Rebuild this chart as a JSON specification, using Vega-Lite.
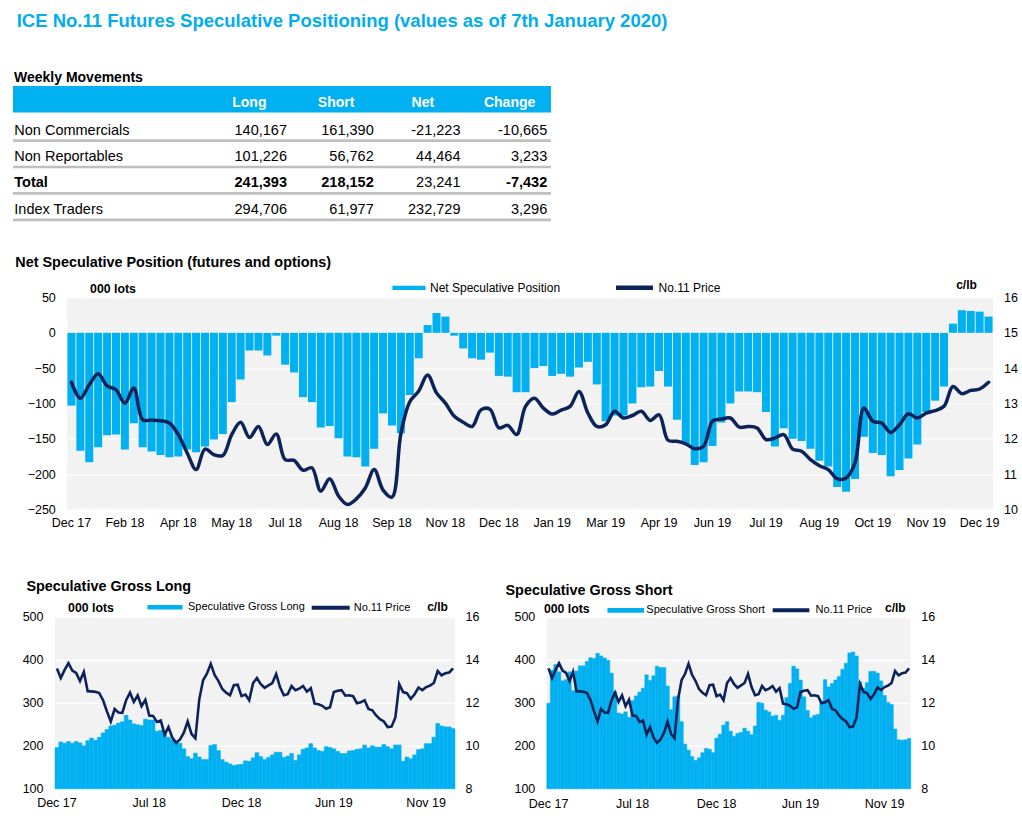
{
  "$schema": "https://vega.github.io/schema/vega-lite/v6.json",
  "background": "white",
  "padding": {"left": 11, "top": 12, "right": 0, "bottom": 0},
  "title": {"text": "ICE No.11 Futures Speculative Positioning (values as of 7th January 2020)", "anchor": "start", "font": "Liberation Sans", "fontSize": 18.5, "fontWeight": "bold", "color": "#00AEEF", "dx": 5, "dy": 1.5, "offset": 41.5},
  "datasets": {
    "w": [
      {"i":1,"net":-103,"long":196,"short":299,"price":13.60},
      {"i":2,"net":-167,"long":209,"short":376,"price":13.15},
      {"i":3,"net":-183,"long":206,"short":389,"price":13.53},
      {"i":4,"net":-162,"long":210,"short":372,"price":13.84},
      {"i":5,"net":-145,"long":206,"short":351,"price":13.50},
      {"i":6,"net":-144,"long":210,"short":354,"price":13.39},
      {"i":7,"net":-165,"long":207,"short":372,"price":13.01},
      {"i":8,"net":-128,"long":200,"short":328,"price":13.44},
      {"i":9,"net":-162,"long":212,"short":374,"price":12.54},
      {"i":10,"net":-168,"long":218,"short":386,"price":12.53},
      {"i":11,"net":-173,"long":213,"short":386,"price":12.51},
      {"i":12,"net":-176,"long":220,"short":396,"price":12.45},
      {"i":13,"net":-175,"long":230,"short":405,"price":12.12},
      {"i":14,"net":-165,"long":238,"short":403,"price":11.60},
      {"i":15,"net":-169,"long":246,"short":415,"price":11.13},
      {"i":16,"net":-161,"long":248,"short":409,"price":11.71},
      {"i":17,"net":-151,"long":253,"short":404,"price":11.55},
      {"i":18,"net":-143,"long":256,"short":399,"price":11.53},
      {"i":19,"net":-98,"long":271,"short":369,"price":12.12},
      {"i":20,"net":-66,"long":260,"short":326,"price":12.47},
      {"i":21,"net":-25,"long":251,"short":276,"price":12.04},
      {"i":22,"net":-25,"long":249,"short":274,"price":12.35},
      {"i":23,"net":-32,"long":247,"short":279,"price":11.84},
      {"i":24,"net":-4,"long":262,"short":266,"price":12.14},
      {"i":25,"net":-45,"long":260,"short":305,"price":11.41},
      {"i":26,"net":-56,"long":260,"short":316,"price":11.39},
      {"i":27,"net":-91,"long":234,"short":325,"price":11.11},
      {"i":28,"net":-98,"long":236,"short":334,"price":11.18},
      {"i":29,"net":-134,"long":231,"short":365,"price":10.52},
      {"i":30,"net":-132,"long":220,"short":352,"price":10.87},
      {"i":31,"net":-149,"long":214,"short":363,"price":10.38},
      {"i":32,"net":-175,"long":210,"short":385,"price":10.14},
      {"i":33,"net":-176,"long":206,"short":382,"price":10.30},
      {"i":34,"net":-189,"long":193,"short":382,"price":10.61},
      {"i":35,"net":-164,"long":175,"short":339,"price":11.13},
      {"i":36,"net":-114,"long":170,"short":284,"price":10.55},
      {"i":37,"net":-131,"long":183,"short":314,"price":10.35},
      {"i":38,"net":-142,"long":174,"short":316,"price":12.15},
      {"i":39,"net":-88,"long":168,"short":256,"price":13.05},
      {"i":40,"net":-36,"long":168,"short":204,"price":13.35},
      {"i":41,"net":11,"long":201,"short":190,"price":13.81},
      {"i":42,"net":28,"long":203,"short":175,"price":13.30},
      {"i":43,"net":23,"long":189,"short":166,"price":13.01},
      {"i":44,"net":-4,"long":168,"short":172,"price":12.64},
      {"i":45,"net":-22,"long":162,"short":184,"price":12.47},
      {"i":46,"net":-36,"long":158,"short":194,"price":12.35},
      {"i":47,"net":-38,"long":154,"short":192,"price":12.82},
      {"i":48,"net":-28,"long":156,"short":184,"price":12.84},
      {"i":49,"net":-61,"long":157,"short":218,"price":12.31},
      {"i":50,"net":-62,"long":165,"short":227,"price":12.38},
      {"i":51,"net":-84,"long":164,"short":248,"price":12.12},
      {"i":52,"net":-84,"long":172,"short":256,"price":12.92},
      {"i":53,"net":-50,"long":184,"short":234,"price":13.15},
      {"i":54,"net":-47,"long":175,"short":222,"price":12.87},
      {"i":55,"net":-61,"long":168,"short":229,"price":12.70},
      {"i":56,"net":-58,"long":173,"short":231,"price":12.81},
      {"i":57,"net":-62,"long":179,"short":241,"price":12.92},
      {"i":58,"net":-49,"long":185,"short":234,"price":13.34},
      {"i":59,"net":-41,"long":185,"short":226,"price":12.73},
      {"i":60,"net":-73,"long":173,"short":246,"price":12.35},
      {"i":61,"net":-125,"long":176,"short":301,"price":12.40},
      {"i":62,"net":-117,"long":182,"short":299,"price":12.78},
      {"i":63,"net":-117,"long":166,"short":283,"price":12.59},
      {"i":64,"net":-100,"long":179,"short":279,"price":12.66},
      {"i":65,"net":-77,"long":192,"short":269,"price":12.78},
      {"i":66,"net":-76,"long":195,"short":271,"price":12.52},
      {"i":67,"net":-54,"long":205,"short":259,"price":12.68},
      {"i":68,"net":-76,"long":195,"short":271,"price":11.96},
      {"i":69,"net":-123,"long":189,"short":312,"price":11.93},
      {"i":70,"net":-158,"long":187,"short":345,"price":11.86},
      {"i":71,"net":-187,"long":198,"short":385,"price":11.72},
      {"i":72,"net":-183,"long":196,"short":379,"price":11.79},
      {"i":73,"net":-160,"long":193,"short":353,"price":12.50},
      {"i":74,"net":-127,"long":187,"short":314,"price":12.56},
      {"i":75,"net":-100,"long":182,"short":282,"price":12.59},
      {"i":76,"net":-83,"long":182,"short":265,"price":12.33},
      {"i":77,"net":-83,"long":188,"short":271,"price":12.35},
      {"i":78,"net":-84,"long":189,"short":273,"price":12.31},
      {"i":79,"net":-112,"long":192,"short":304,"price":11.98},
      {"i":80,"net":-161,"long":193,"short":354,"price":12.02},
      {"i":81,"net":-135,"long":202,"short":337,"price":12.12},
      {"i":82,"net":-150,"long":195,"short":345,"price":11.71},
      {"i":83,"net":-153,"long":200,"short":353,"price":11.65},
      {"i":84,"net":-164,"long":197,"short":361,"price":11.41},
      {"i":85,"net":-181,"long":197,"short":378,"price":11.24},
      {"i":86,"net":-189,"long":203,"short":392,"price":11.13},
      {"i":87,"net":-218,"long":198,"short":416,"price":10.87},
      {"i":88,"net":-225,"long":193,"short":418,"price":10.89},
      {"i":89,"net":-207,"long":202,"short":409,"price":11.32},
      {"i":90,"net":-147,"long":202,"short":349,"price":12.87},
      {"i":91,"net":-170,"long":164,"short":334,"price":12.50},
      {"i":92,"net":-173,"long":174,"short":347,"price":12.45},
      {"i":93,"net":-203,"long":170,"short":373,"price":12.18},
      {"i":94,"net":-194,"long":179,"short":373,"price":12.40},
      {"i":95,"net":-178,"long":191,"short":369,"price":12.71},
      {"i":96,"net":-158,"long":193,"short":351,"price":12.59},
      {"i":97,"net":-112,"long":205,"short":317,"price":12.73},
      {"i":98,"net":-96,"long":205,"short":301,"price":12.80},
      {"i":99,"net":-76,"long":220,"short":296,"price":12.92},
      {"i":100,"net":13,"long":252,"short":239,"price":13.48},
      {"i":101,"net":32,"long":246,"short":214,"price":13.28},
      {"i":102,"net":31,"long":244,"short":213,"price":13.37},
      {"i":103,"net":30,"long":244,"short":214,"price":13.41},
      {"i":104,"net":23,"long":240,"short":217,"price":13.60}
    ],
    "table": [
      {"row":"hdr","col":"Long","v":"Long"},
      {"row":"hdr","col":"Short","v":"Short"},
      {"row":"hdr","col":"Net","v":"Net"},
      {"row":"hdr","col":"Change","v":"Change"},
      {"row":"Non Commercials","col":"Long","v":"140,167"},
      {"row":"Non Commercials","col":"Short","v":"161,390"},
      {"row":"Non Commercials","col":"Net","v":"-21,223"},
      {"row":"Non Commercials","col":"Change","v":"-10,665"},
      {"row":"Non Reportables","col":"Long","v":"101,226"},
      {"row":"Non Reportables","col":"Short","v":"56,762"},
      {"row":"Non Reportables","col":"Net","v":"44,464"},
      {"row":"Non Reportables","col":"Change","v":"3,233"},
      {"row":"Total","col":"Long","v":"241,393"},
      {"row":"Total","col":"Short","v":"218,152"},
      {"row":"Total","col":"Net","v":"23,241"},
      {"row":"Total","col":"Change","v":"-7,432"},
      {"row":"Index Traders","col":"Long","v":"294,706"},
      {"row":"Index Traders","col":"Short","v":"61,977"},
      {"row":"Index Traders","col":"Net","v":"232,729"},
      {"row":"Index Traders","col":"Change","v":"3,296"}
    ]
  },
  "spacing": 32.5,
  "resolve": {"scale": {"fill": "independent", "stroke": "independent"}, "legend": {"fill": "independent", "stroke": "independent"}},
  "vconcat": [
    {
      "width": 538,
      "height": 132,
      "data": {"name": "table"},
      "title": {"text": "Weekly Movements", "anchor": "start", "frame": "group", "dx": 1, "fontSize": 14, "fontWeight": "bold", "offset": 1.5},
      "encoding": {
        "y": {"field": "row", "type": "nominal", "sort": null,
              "scale": {"domain": ["hdr", "Non Commercials", "Non Reportables", "Total", "Index Traders"], "paddingInner": 0, "paddingOuter": 0},
              "axis": {"title": null, "domain": false, "ticks": false, "labelAlign": "left", "labelPadding": -0.8, "labelFontSize": 14.5, "labelOffset": 5,
                       "labelExpr": "datum.value == 'hdr' ? '' : datum.value",
                       "labelFontWeight": {"condition": {"test": "datum.value == 'Total'", "value": "bold"}, "value": "normal"}}}
      },
      "layer": [
        {
          "transform": [{"filter": "datum.row == 'hdr' && datum.col == 'Long'"}],
          "mark": {"type": "bar", "color": "#00B0F0"},
          "encoding": {"x": {"value": 0}, "x2": {"value": "width"}}
        },
        {
          "transform": [{"filter": "datum.row != 'hdr' && datum.col == 'Long'"}],
          "mark": {"type": "rule", "color": "#BFBFBF", "strokeWidth": 2.7, "yOffset": 15},
          "encoding": {"y": {"field": "row", "type": "nominal"}, "x": {"value": 0}, "x2": {"value": "width"}}
        },
        {
          "transform": [{"filter": "datum.row == 'hdr'"}],
          "mark": {"type": "text", "color": "white", "fontWeight": "bold", "fontSize": 14, "dy": 4.2},
          "encoding": {
            "x": {"field": "col", "type": "nominal", "scale": {"domain": ["Long", "Short", "Net", "Change"], "range": [193, 540], "paddingInner": 0, "paddingOuter": 0}, "axis": null},
            "text": {"field": "v"}
          }
        },
        {
          "transform": [{"filter": "datum.row != 'hdr' && !(datum.row == 'Total' && datum.col != 'Net')"}],
          "mark": {"type": "text", "color": "black", "fontSize": 14.5, "align": "right", "dx": 37.6, "dy": 5},
          "encoding": {
            "x": {"field": "col", "type": "nominal"},
            "text": {"field": "v"}
          }
        },
        {
          "transform": [{"filter": "datum.row == 'Total' && datum.col != 'Net'"}],
          "mark": {"type": "text", "color": "black", "fontSize": 14.5, "fontWeight": "bold", "align": "right", "dx": 37.6, "dy": 5},
          "encoding": {
            "x": {"field": "col", "type": "nominal"},
            "text": {"field": "v"}
          }
        }
      ]
    },
    {
      "spacing": 49.3,
      "resolve": {"scale": {"fill": "independent", "stroke": "independent"}, "legend": {"fill": "independent", "stroke": "independent"}},
      "vconcat": [
        {
          "spacing": 0,
          "resolve": {"scale": {"fill": "independent", "stroke": "independent"}, "legend": {"fill": "independent", "stroke": "independent"}},
          "hconcat": [
            {"width": 2, "height": 1, "data": {"values": []}, "mark": "point", "view": {"fill": "transparent", "stroke": null}},
            {
              "width": 926,
              "height": 212,
              "data": {"name": "w"},
              "title": {"text": "Net Speculative Position (futures and options)", "anchor": "start", "frame": "group", "dx": -51.7, "fontSize": 14.4, "fontWeight": "bold", "offset": -4},
              "view": {"fill": "#F2F2F2", "stroke": null},
              "encoding": {
                "x": {"field": "i", "type": "ordinal", "scale": {"paddingInner": 0.1, "paddingOuter": 0.05},
                      "axis": {"title": null, "domain": false, "ticks": false, "labelAngle": 0, "labelFontSize": 12.5, "labelPadding": 7,
                               "values": [1, 7, 13, 19, 25, 31, 37, 43, 49, 55, 61, 67, 73, 79, 85, 91, 97, 103],
                               "labelExpr": "['Dec 17','Feb 18','Apr 18','May 18','Jul 18','Aug 18','Sep 18','Nov 18','Dec 18','Jan 19','Mar 19','Apr 19','Jun 19','Jul 19','Aug 19','Oct 19','Nov 19','Dec 19'][(datum.value - 1) / 6]"}}
              },
              "layer": [
                {
                  "mark": {"type": "bar"},
                  "encoding": {
                    "y": {"field": "net", "type": "quantitative", "scale": {"domain": [-250, 50], "nice": false},
                          "axis": {"values": [-250, -200, -150, -100, -50, 0, 50], "grid": true, "gridColor": "white", "gridWidth": 1.2, "domain": false, "ticks": false,
                                   "labelFontSize": 12.5, "labelPadding": 11.7,
                                   "title": "000 lots", "titleAngle": 0, "titleX": 45.5, "titleY": -9.4, "titleAlign": "center", "titleBaseline": "middle", "titleFontSize": 12.3, "titleFontWeight": "bold"}},
                    "fill": {"datum": "Net Speculative Position", "type": "nominal", "scale": {"range": ["#00B0F0"]},
                             "legend": {"orient": "none", "legendX": 325, "legendY": -26.7, "title": null, "symbolType": "M-1,-0.13H1V0.13H-1Z", "symbolSize": 1100, "symbolStrokeWidth": 0, "labelFontSize": 12, "labelOffset": 4}}
                  }
                },
                {
                  "mark": {"type": "line", "interpolate": "catmull-rom", "strokeWidth": 3.5, "strokeCap": "round"},
                  "encoding": {
                    "y": {"field": "price", "type": "quantitative", "scale": {"domain": [10, 16], "nice": false, "zero": false},
                          "axis": {"orient": "right", "values": [10, 11, 12, 13, 14, 15, 16], "grid": false, "domain": false, "ticks": false,
                                   "labelFontSize": 12.5, "labelPadding": 10.6,
                                   "title": "c/lb", "titleAngle": 0, "titleX": -27, "titleY": -12.7, "titleAlign": "center", "titleBaseline": "middle", "titleFontSize": 12, "titleFontWeight": "bold"}},
                    "stroke": {"datum": "No.11 Price", "type": "nominal", "scale": {"range": ["#0C235A"]},
                               "legend": {"orient": "none", "legendX": 546.5, "legendY": -30.7, "title": null, "symbolType": "stroke", "symbolSize": 1369, "symbolStrokeWidth": 4.5, "labelFontSize": 12, "labelOffset": 3}}
                  }
                }
              ],
              "resolve": {"scale": {"y": "independent", "fill": "independent", "stroke": "independent"}, "legend": {"fill": "independent", "stroke": "independent"}}
            }
          ]
        },
        {
          "spacing": 0,
          "resolve": {"scale": {"fill": "independent", "stroke": "independent"}, "legend": {"fill": "independent", "stroke": "independent"}},
          "hconcat": [
            {"width": 8.4, "height": 1, "data": {"values": []}, "mark": "point", "view": {"fill": "transparent", "stroke": null}},
            {
              "spacing": 25.8,
              "resolve": {"scale": {"fill": "independent", "stroke": "independent"}, "legend": {"fill": "independent", "stroke": "independent"}},
              "hconcat": [
                {
                  "width": 400,
                  "height": 172,
                  "data": {"name": "w"},
                  "title": {"text": "Speculative Gross Long", "anchor": "start", "frame": "group", "dx": -28.6, "fontSize": 14.4, "fontWeight": "bold", "offset": -8},
                  "view": {"fill": "#F2F2F2", "stroke": null},
                  "encoding": {
                    "x": {"field": "i", "type": "ordinal", "scale": {"paddingInner": 0, "paddingOuter": 0},
                          "axis": {"title": null, "domain": false, "ticks": false, "labelAngle": 0, "labelFontSize": 12.5, "labelPadding": 7.5,
                                   "values": [1, 25, 49, 73, 97],
                                   "labelExpr": "['Dec 17','Jul 18','Dec 18','Jun 19','Nov 19'][(datum.value - 1) / 24]"}}
                  },
                  "layer": [
                    {
                      "mark": {"type": "bar", "stroke": "#00B0F0", "strokeWidth": 0.5},
                      "encoding": {
                        "y": {"field": "long", "type": "quantitative", "scale": {"domain": [100, 500], "nice": false, "zero": false},
                              "axis": {"values": [100, 200, 300, 400, 500], "grid": true, "gridColor": "white", "gridWidth": 1.2, "domain": false, "ticks": false,
                                       "labelFontSize": 12.5, "labelPadding": 12,
                                       "title": "000 lots", "titleAngle": 0, "titleX": 35.5, "titleY": -9, "titleAlign": "center", "titleBaseline": "middle", "titleFontSize": 12.3, "titleFontWeight": "bold"}},
                        "y2": {"datum": 100},
                        "fill": {"datum": "Speculative Gross Long", "type": "nominal", "scale": {"range": ["#00B0F0"]},
                                 "legend": {"orient": "none", "legendX": 92.5, "legendY": -27, "title": null, "symbolType": "M-1,-0.13H1V0.13H-1Z", "symbolSize": 1225, "symbolStrokeWidth": 0, "labelFontSize": 11, "labelOffset": 5.5}}
                      }
                    },
                    {
                      "mark": {"type": "line", "strokeWidth": 2.6},
                      "encoding": {
                        "y": {"field": "price", "type": "quantitative", "scale": {"domain": [8, 16], "nice": false, "zero": false},
                              "axis": {"orient": "right", "values": [8, 10, 12, 14, 16], "grid": false, "domain": false, "ticks": false,
                                       "labelFontSize": 12.5, "labelPadding": 10,
                                       "title": "c/lb", "titleAngle": 0, "titleX": -18, "titleY": -10, "titleAlign": "center", "titleBaseline": "middle", "titleFontSize": 12, "titleFontWeight": "bold"}},
                        "stroke": {"datum": "No.11 Price", "type": "nominal", "scale": {"range": ["#0C235A"]},
                                   "legend": {"orient": "none", "legendX": 254.7, "legendY": -30, "title": null, "symbolType": "stroke", "symbolSize": 1444, "symbolStrokeWidth": 4, "labelFontSize": 11, "labelOffset": 2}}
                      }
                    }
                  ],
                  "resolve": {"scale": {"y": "independent", "fill": "independent", "stroke": "independent"}, "legend": {"fill": "independent", "stroke": "independent"}}
                },
                {
                  "width": 364,
                  "height": 172,
                  "data": {"name": "w"},
                  "title": {"text": "Speculative Gross Short", "anchor": "start", "frame": "group", "dx": -41.3, "fontSize": 14.4, "fontWeight": "bold", "offset": -9},
                  "view": {"fill": "#F2F2F2", "stroke": null},
                  "encoding": {
                    "x": {"field": "i", "type": "ordinal", "scale": {"paddingInner": 0, "paddingOuter": 0},
                          "axis": {"title": null, "domain": false, "ticks": false, "labelAngle": 0, "labelFontSize": 12.5, "labelPadding": 8.5,
                                   "values": [1, 25, 49, 73, 97],
                                   "labelExpr": "['Dec 17','Jul 18','Dec 18','Jun 19','Nov 19'][(datum.value - 1) / 24]"}}
                  },
                  "layer": [
                    {
                      "mark": {"type": "bar", "stroke": "#00B0F0", "strokeWidth": 0.5},
                      "encoding": {
                        "y": {"field": "short", "type": "quantitative", "scale": {"domain": [100, 500], "nice": false, "zero": false},
                              "axis": {"values": [100, 200, 300, 400, 500], "grid": true, "gridColor": "white", "gridWidth": 1.2, "domain": false, "ticks": false,
                                       "labelFontSize": 12.5, "labelPadding": 12,
                                       "title": "000 lots", "titleAngle": 0, "titleX": 19.5, "titleY": -8, "titleAlign": "center", "titleBaseline": "middle", "titleFontSize": 12.3, "titleFontWeight": "bold"}},
                        "y2": {"datum": 100},
                        "fill": {"datum": "Speculative Gross Short", "type": "nominal", "scale": {"range": ["#00B0F0"]},
                                 "legend": {"orient": "none", "legendX": 60.5, "legendY": -25, "title": null, "symbolType": "M-1,-0.13H1V0.13H-1Z", "symbolSize": 1346, "symbolStrokeWidth": 0, "labelFontSize": 11, "labelOffset": 2}}
                      }
                    },
                    {
                      "mark": {"type": "line", "strokeWidth": 2.6},
                      "encoding": {
                        "y": {"field": "price", "type": "quantitative", "scale": {"domain": [8, 16], "nice": false, "zero": false},
                              "axis": {"orient": "right", "values": [8, 10, 12, 14, 16], "grid": false, "domain": false, "ticks": false,
                                       "labelFontSize": 12.5, "labelPadding": 10,
                                       "title": "c/lb", "titleAngle": 0, "titleX": -16, "titleY": -9, "titleAlign": "center", "titleBaseline": "middle", "titleFontSize": 12, "titleFontWeight": "bold"}},
                        "stroke": {"datum": "No.11 Price", "type": "nominal", "scale": {"range": ["#0C235A"]},
                                   "legend": {"orient": "none", "legendX": 223.7, "legendY": -27, "title": null, "symbolType": "stroke", "symbolSize": 1346, "symbolStrokeWidth": 4, "labelFontSize": 11, "labelOffset": 4}}
                      }
                    }
                  ],
                  "resolve": {"scale": {"y": "independent", "fill": "independent", "stroke": "independent"}, "legend": {"fill": "independent", "stroke": "independent"}}
                }
              ]
            }
          ]
        }
      ]
    }
  ],
  "config": {
    "font": "Liberation Sans",
    "view": {"stroke": null},
    "axis": {"labelColor": "black", "titleColor": "black", "labelFont": "Liberation Sans", "titleFont": "Liberation Sans"},
    "legend": {"labelColor": "black", "labelFont": "Liberation Sans"},
    "title": {"color": "black", "font": "Liberation Sans"}
  }
}
